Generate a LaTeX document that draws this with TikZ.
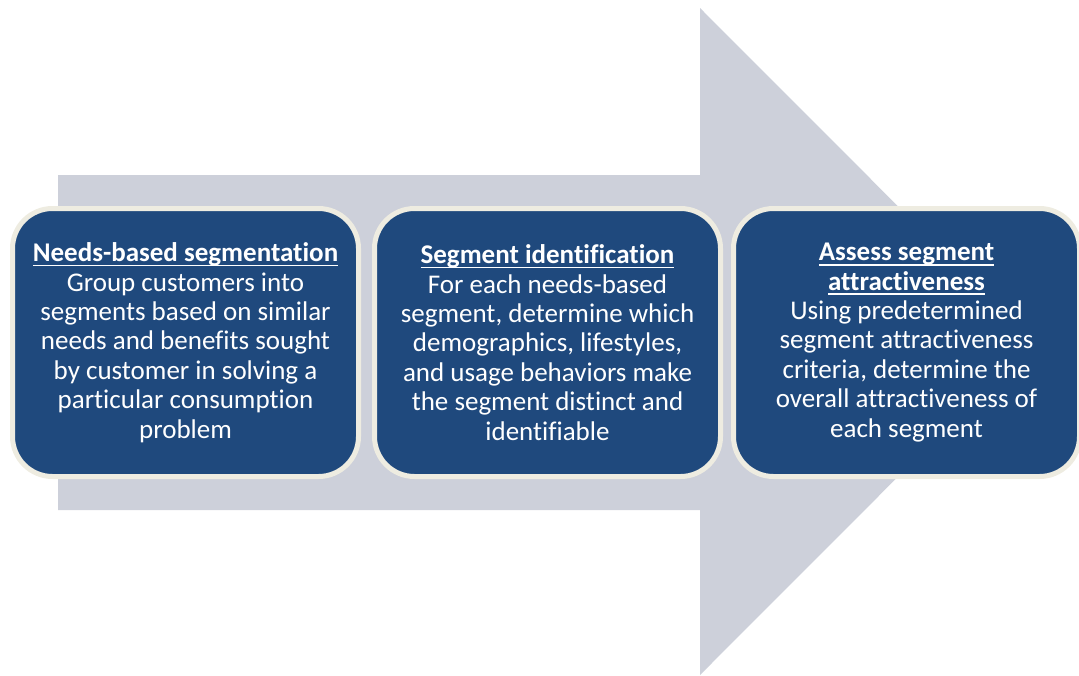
\documentclass[tikz,border=0pt]{standalone}
\usepackage{fontspec}
\setmainfont[Ligatures=NoCommon]{Carlito}
\definecolor{arrowgrey}{RGB}{205,208,218}
\definecolor{boxblue}{RGB}{31,73,125}
\definecolor{boxcream}{RGB}{238,236,225}
\newcommand{\ulbf}[1]{\setbox0\hbox{\bfseries #1}\rlap{\rule[-4.8pt]{\wd0}{1.5pt}}\box0}
\tikzset{
  stage/.style={draw=boxcream, line width=5pt, fill=boxblue, rounded corners=40pt,
    minimum width=346pt, minimum height=268pt, inner sep=0pt, text=white,
    align=center, font=\fontsize{27}{29.4}\selectfont},
}
\begin{document}
\begin{tikzpicture}[x=1pt,y=-1pt]
\useasboundingbox (0,0) rectangle (1079,675);
\fill[arrowgrey] (58,175) -- (700,175) -- (700,8) -- (1033,341.5) -- (700,675) -- (700,510) -- (58,510) -- cycle;
\node[stage] (s1) at (185.5,342.5) {\ulbf{Needs-based segmentation}\\Group customers into\\segments based on similar\\needs and benefits sought\\by customer in solving a\\particular consumption\\problem};
\node[stage] (s2) at (547.5,342.5) {\ulbf{Segment identification}\\For each needs-based\\segment, determine which\\demographics, lifestyles,\\and usage behaviors make\\the segment distinct and\\identifiable};
\node[stage] (s3) at (906.5,342.5) {\ulbf{Assess segment}\\\ulbf{attractiveness}\\Using predetermined\\segment attractiveness\\criteria, determine the\\overall attractiveness of\\each segment};
\end{tikzpicture}
\end{document}
